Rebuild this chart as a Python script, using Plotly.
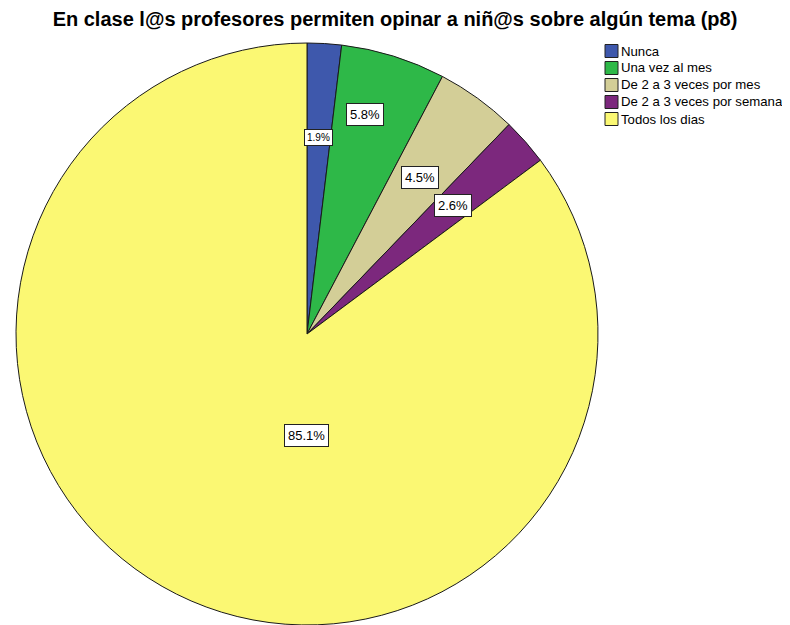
import math
import plotly.graph_objects as go

# ---- data ----
categories = ["Nunca", "Una vez al mes", "De 2 a 3 veces por mes",
              "De 2 a 3 veces por semana", "Todos los dias"]
percent_values = [1.9, 5.8, 4.5, 2.6, 85.1]
percent_labels = ["1.9%", "5.8%", "4.5%", "2.6%", "85.1%"]
title_text = "En clase l@s profesores permiten opinar a niñ@s sobre algún tema (p8)"

# ---- style ----
colors = ["#3E58AC", "#2EB848", "#D3CE97", "#7C287D", "#FBF873"]
label_radius_frac = [0.675, 0.78, 0.665, 0.667, 0.35]
label_angle_adjust = [0.0, -2.4, 0.0, 0.0, -26.6]
label_font_size = [10, 13, 13, 13, 13]
label_pad = [2, 3, 3, 3, 3]

OFF = 8                      # default body margin of the html page
W, H = 790 - OFF, 625 - OFF  # figure size so it fills the window exactly
FONT = "Liberation Sans, Arial, sans-serif"

# pie placement (figure pixels)
pie_left, pie_right = 16 - OFF, 598 - OFF
pie_top = 43 - OFF
dom_x = [pie_left / W, pie_right / W]
dom_y = [0.0, 1 - pie_top / H]

fig = go.Figure(go.Pie(
    labels=categories,
    values=percent_values,
    sort=False,
    direction="clockwise",
    rotation=0,
    marker=dict(colors=colors, line=dict(color="#1a1a1a", width=1)),
    textinfo="none",
    hovertemplate="%{label}: %{value}%<extra></extra>",
    showlegend=False,
    domain=dict(x=dom_x, y=dom_y),
))

# pie geometry in pixels (derived from domain)
cx = (dom_x[0] + dom_x[1]) / 2 * W
cy = (1 - (dom_y[0] + dom_y[1]) / 2) * H
R = min((dom_x[1] - dom_x[0]) * W, (dom_y[1] - dom_y[0]) * H) / 2

total = sum(percent_values)
annotations = []
cum = 0.0
for i, v in enumerate(percent_values):
    mid = (cum + v / 2) / total * 360 + label_angle_adjust[i]
    cum += v
    r = label_radius_frac[i] * R
    px = cx + r * math.sin(math.radians(mid))
    py = cy - r * math.cos(math.radians(mid))
    annotations.append(dict(
        x=px / W, y=1 - py / H, xref="paper", yref="paper",
        text=percent_labels[i], showarrow=False,
        font=dict(family=FONT, size=label_font_size[i], color="black"),
        bgcolor="white", bordercolor="#222222", borderwidth=1,
        borderpad=label_pad[i],
        xanchor="center", yanchor="middle",
    ))

# custom legend
shapes = []
for i, cat in enumerate(categories):
    yc = 51 + 17 * i - OFF
    shapes.append(dict(
        type="rect", xref="paper", yref="paper",
        x0=(605 - OFF) / W, x1=(618 - OFF) / W,
        y0=1 - (yc + 6.5) / H, y1=1 - (yc - 6.5) / H,
        fillcolor=colors[i], line=dict(color="#222222", width=1),
    ))
    annotations.append(dict(
        x=(619 - OFF) / W, y=1 - yc / H, xref="paper", yref="paper",
        text=cat, showarrow=False, xanchor="left", yanchor="middle",
        font=dict(family=FONT, size=13.2, color="black"),
    ))

fig.update_layout(
    width=W, height=H,
    margin=dict(l=0, r=0, t=0, b=0),
    paper_bgcolor="white",
    plot_bgcolor="white",
    title=dict(
        text="<b>" + title_text + "</b>",
        x=(395 - OFF) / W, xanchor="center", xref="container",
        y=1 - (19 - OFF) / H, yanchor="middle", yref="container",
        font=dict(family=FONT, size=20, color="black"),
    ),
    annotations=annotations,
    shapes=shapes,
)

fig.write_html("out.html")
